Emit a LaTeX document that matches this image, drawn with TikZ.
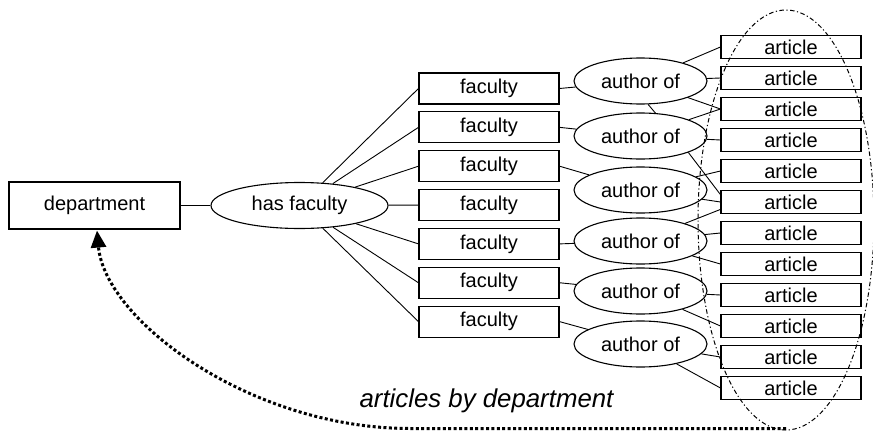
\documentclass[tikz,border=0pt]{standalone}
\usepackage{fontspec}
\setmainfont{Liberation Sans}
\usetikzlibrary{arrows.meta,shapes.geometric,calc}
\begin{document}
\begin{tikzpicture}[x=1pt,y=-1pt,
  box/.style={draw,line width=1.1pt,rectangle,inner sep=0pt,font=\fontsize{20}{24}\selectfont},
  rel/.style={draw,line width=1.1pt,ellipse,inner sep=0pt,font=\fontsize{20}{24}\selectfont},
  link/.style={line width=0.9pt},
  group/.style={draw,ellipse,line width=1pt,inner sep=0pt,dash pattern=on 4.5pt off 2.5pt on 1.2pt off 2.5pt},
  dotarrow/.style={line width=3pt,dash pattern=on 3pt off 2.4pt,-{Triangle[length=17pt,width=15pt]}},
  caption/.style={font=\fontsize{25.8}{30}\selectfont\itshape}
]
\useasboundingbox (0,0) rectangle (873,431);

\node[box,minimum width=171pt,minimum height=47pt] (dept) at (94.5,205.5) {department};
\node[rel,minimum width=177pt,minimum height=46pt] (hf) at (299.5,205.5) {has faculty};

\foreach \i in {1,...,7}
  \node[box,minimum width=140pt,minimum height=31pt] (f\i) at (489,{88.5+38.85*(\i-1)}) {faculty};

\foreach \i/\y in {1/81,2/136,3/190,4/241,5/291,6/344}
  \node[rel,minimum width=133pt,minimum height=46pt] (a\i) at (640.5,\y) {author of};

\foreach \i in {1,...,12}
  \node[box,minimum width=140pt,minimum height=23pt] (r\i) at (791,{47+31*(\i-1)}) {article};

% department -> has faculty
\draw[link] (dept) -- (hf);
\foreach \i in {1,...,7}
  \draw[link] (hf) -- (f\i.west);

% faculty -> author of
\foreach \f/\a in {1/1,2/2,3/3,5/4,6/5,7/6}
  \draw[link] (f\f.east) -- (a\a);

% author of -> article
\draw[link] (a1) -- (r1.west);
\draw[link] (a1) -- (r2.west);
\draw[link] (a1) -- (r3.west);
\draw[link] (a2) -- (r3.west);
\draw[link] (a2) -- (r4.west);
\draw[link] (a2.-19) -- (r6.174);
\draw[link] (a3) -- (r5.west);
\draw[link] (a3) -- (r6.west);
\draw[link] (a4) -- (r6.186);
\draw[link] (a4) -- (r7.west);
\draw[link] (a4) -- (r8.west);
\draw[link] (a5) -- (r9.west);
\draw[link] (a5) -- (r10.west);
\draw[link] (a6) -- (r11.west);
\draw[link] (a6) -- (r12.west);
\draw[link] (a1.-72) -- (a2.57);

% group of articles
\node[group,minimum width=176pt,minimum height=420pt] (grp) at (786,220) {};

% dotted arrow
\draw[dotarrow] ($(grp.south)+(0,-2)$) -- (410,428.5) .. controls (250,428.5) and (105,320) .. ($(dept.south)+(2.5,1)$);

\node[caption,anchor=base] (lbl) at (486.5,407) {articles by department};
\end{tikzpicture}
\end{document}
